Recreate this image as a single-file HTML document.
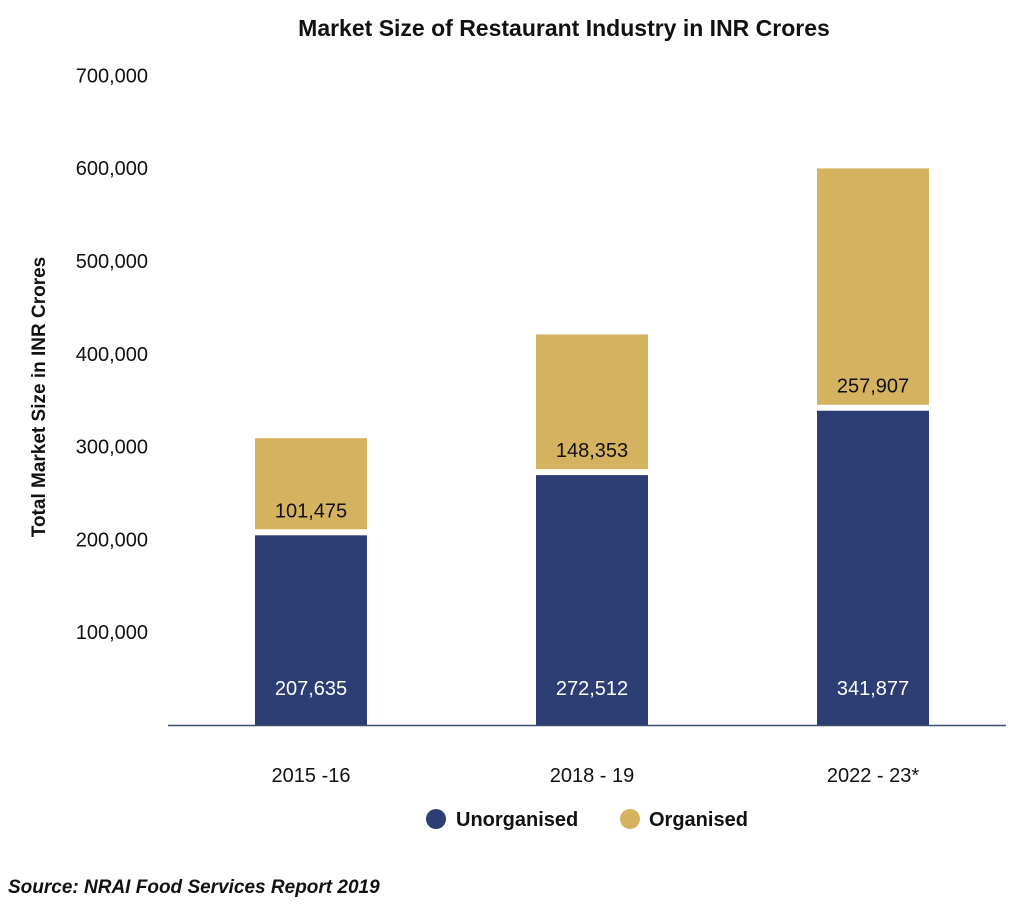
<!DOCTYPE html>
<html><head><meta charset="utf-8"><style>
body{margin:0;background:#fff;}
svg text{font-family:"Liberation Sans",sans-serif;}
</style></head><body>
<svg id="chart" width="1024" height="908" viewBox="0 0 1024 908">
<text x="564" y="36" text-anchor="middle" font-size="23" font-weight="bold" fill="#111">Market Size of Restaurant Industry in INR Crores</text>
<text transform="translate(45,397) rotate(-90)" text-anchor="middle" font-size="19" font-weight="bold" fill="#111">Total Market Size in INR Crores</text>
<g id="yticks"></g>
<g id="bars"></g>
<line x1="168" y1="725.5" x2="1006" y2="725.5" stroke="#3a4f6e" stroke-width="1.5"/>
<g id="xlabels"></g>
<g>
<circle cx="436" cy="819" r="10" fill="#2d3e74"/>
<text x="456" y="826" font-size="20" font-weight="bold" fill="#111">Unorganised</text>
<circle cx="630" cy="819" r="10" fill="#d4b25f"/>
<text x="649" y="826" font-size="20" font-weight="bold" fill="#111">Organised</text>
</g>
<text x="8" y="893" font-size="19" font-weight="bold" font-style="italic" fill="#111">Source: NRAI Food Services Report 2019</text>
</svg>
<script>
const categories = ["2015 -16", "2018 - 19", "2022 - 23*"];
const unorganised = [207635, 272512, 341877];
const organised = [101475, 148353, 257907];
const tickValues = [100000, 200000, 300000, 400000, 500000, 600000, 700000];
const tickLabels = ["100,000", "200,000", "300,000", "400,000", "500,000", "600,000", "700,000"];
const unorgLabels = ["207,635", "272,512", "341,877"];
const orgLabels = ["101,475", "148,353", "257,907"];

const NS = "http://www.w3.org/2000/svg";
function y(v){ return 725 - v * 0.000928; }
function xCenter(i){ return 311 + i * 281; }
const barW = 112;
function mk(tag, attrs, parent){ const e=document.createElementNS(NS,tag); for(const k in attrs) e.setAttribute(k,attrs[k]); parent.appendChild(e); return e; }

const yt = document.getElementById("yticks");
tickValues.forEach((v,i)=>{
  const t = mk("text",{x:148,y:y(v)+7,"text-anchor":"end","font-size":"20",fill:"#111"},yt);
  
  
  t.textContent = tickLabels[i];
});

const bars = document.getElementById("bars");
const xl = document.getElementById("xlabels");
categories.forEach((c,i)=>{
  const cx = xCenter(i), x0 = cx - barW/2;
  const u = unorganised[i], o = organised[i];
  const ub = mk("rect",{x:x0,y:y(u)+3,width:barW,height:y(0)-y(u)-3,fill:"#2d3e74"},bars);
  
  
  const ob = mk("rect",{x:x0,y:y(u+o),width:barW,height:y(u)-y(u+o)-3,fill:"#d4b25f"},bars);
  
  
  const ul = mk("text",{x:cx,y:y(0)-30,"text-anchor":"middle","font-size":"20",fill:"#fff"},bars);
  
  
  ul.textContent = unorgLabels[i];
  const ol = mk("text",{x:cx,y:y(u)-15,"text-anchor":"middle","font-size":"20",fill:"#111"},bars);
  
  
  ol.textContent = orgLabels[i];
  const xt = mk("text",{x:cx,y:782,"text-anchor":"middle","font-size":"20",fill:"#111"},xl);
  
  
  xt.textContent = c;
});
</script>
</body></html>
